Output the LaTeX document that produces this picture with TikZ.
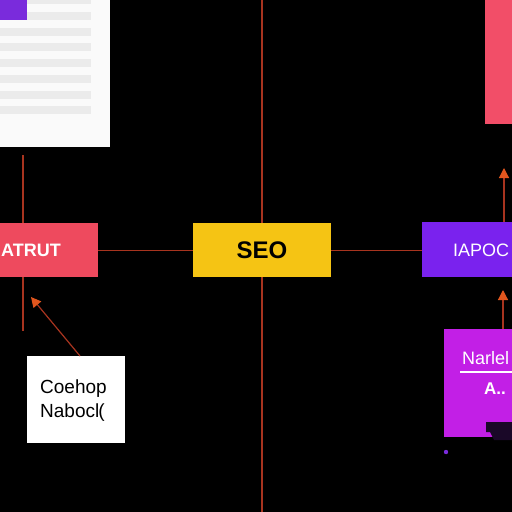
\documentclass[tikz,border=0pt]{standalone}
\usepackage{fontspec}
\setmainfont{Liberation Sans}
\usetikzlibrary{arrows.meta}
\definecolor{bg}{HTML}{000000}
\definecolor{linered}{HTML}{A8341F}
\definecolor{tipred}{HTML}{E2561E}
\definecolor{atrutc}{HTML}{EE4A5E}
\definecolor{seoc}{HTML}{F5C414}
\definecolor{iapocc}{HTML}{7A22EE}
\definecolor{pinkc}{HTML}{F24E68}
\definecolor{magc}{HTML}{C21FE6}
\definecolor{docc}{HTML}{FAFAFA}
\definecolor{bandc}{HTML}{EBEBEB}
\definecolor{sqc}{HTML}{7A2BDC}
\definecolor{notchc}{HTML}{1A0828}
\tikzset{
  box/.style={draw=none, rectangle, inner sep=0pt, anchor=north west},
  conn/.style={draw=linered, line width=1.2pt},
  arr/.style={conn, -{Triangle[width=10pt,length=10pt,color=tipred]}},
  lbl/.style={inner sep=0pt, anchor=base west},
  band/.style={fill=bandc}
}
\begin{document}
\begin{tikzpicture}[x=1pt,y=-1pt]
\useasboundingbox (0,0) rectangle (512,512);
\clip (0,0) rectangle (512,512);
\fill[bg] (0,0) rectangle (512,512);
% central vertical connector
\coordinate (vtop) at (262,0);
\coordinate (vbot) at (262,512);
\draw[conn] (vtop) -- (vbot);
% document
\node[box, fill=docc, minimum width=110pt, minimum height=147pt] (doc) at (0,0) {};
\foreach \y in {-4,12,28,43,59,75,91,106} {\fill[band] (0,\y) rectangle (91,\y+7.5);}
\node[box, fill=sqc, minimum width=27pt, minimum height=20pt] (sq) at (0,0) {};
% boxes
\node[box, fill=atrutc, minimum width=98pt, minimum height=54pt] (atrut) at (0,223) {};
\node[lbl, text=white, font=\bfseries\fontsize{18}{18}\selectfont] (atrutl) at (1,256.5) {ATRUT};
\node[box, fill=seoc, minimum width=138pt, minimum height=54pt] (seo) at (193,223) {};
\node[text=black, inner sep=0pt, font=\bfseries\fontsize{24}{24}\selectfont] (seol) at (262,250) {SEO};
\node[box, fill=iapocc, minimum width=95pt, minimum height=55pt] (iapoc) at (422,222) {};
\node[lbl, text=white, font=\fontsize{18}{18}\selectfont] (iapocl) at (453,256) {IAPOC};
\node[box, fill=pinkc, minimum width=30pt, minimum height=124pt] (pink) at (485,0) {};
\node[box, fill=magc, minimum width=72pt, minimum height=108pt] (mag) at (444,329) {};
\fill[notchc] (486,422) -- (516,422) -- (516,440) -- (494,440) -- (490,432) -- (486,432) -- cycle;
\node[lbl, text=white, font=\fontsize{18}{18}\selectfont] (magl1) at (462,364) {Narlel};
\draw[white, line width=1.3pt] (460,372) -- (512,372);
\node[lbl, text=white, font=\bfseries\fontsize{17}{17}\selectfont] (magl2) at (484,394) {A..};
\fill[sqc] (446,452) circle (2.2);
\node[box, fill=white, minimum width=98pt, minimum height=87pt] (coe) at (27,356) {};
\node[lbl, text=black, font=\fontsize{19}{19}\selectfont] (coel1) at (40,393) {Coehop};
\node[lbl, text=black, font=\fontsize{19}{19}\selectfont] (coel2) at (40,417) {Nabocl\kern-1pt(};
% connectors
\coordinate (lbot) at (23,331);
\coordinate (dtop) at (23,155);
\draw[conn] (dtop) -- (atrut.north west -| dtop);
\draw[conn] (atrut.south west -| lbot) -- (lbot);
\draw[conn] (atrut.east) -- (seo.west);
\draw[conn] (seo.east) -- (iapoc.west |- seo.east);
\coordinate (coetip) at (31,297);
\draw[arr] (80,356) -- (coetip);
\coordinate (ptip) at (504,168);
\draw[arr] (504,222) -- (ptip);
\coordinate (mtip) at (503,290);
\draw[arr] (503,329) -- (mtip);
\end{tikzpicture}
\end{document}
